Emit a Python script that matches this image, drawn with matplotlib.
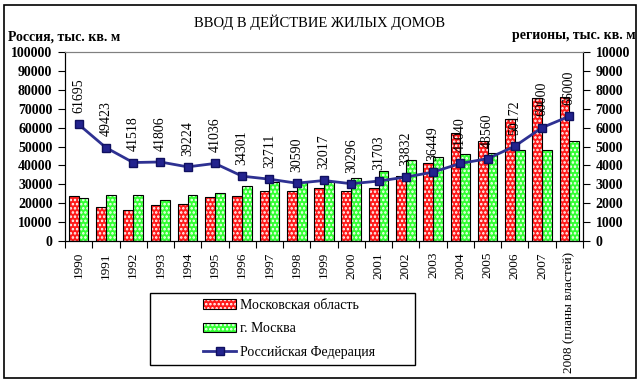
import matplotlib
matplotlib.use("Agg")
import matplotlib.pyplot as plt
import numpy as np
from matplotlib.legend_handler import HandlerTuple
from matplotlib.lines import Line2D
from matplotlib.patches import Patch, Rectangle

years = ["1990", "1991", "1992", "1993", "1994", "1995", "1996", "1997", "1998",
         "1999", "2000", "2001", "2002", "2003", "2004", "2005", "2006", "2007",
         "2008 (планы властей)"]
# regions, thousand sq. m (right axis)
mos_obl = [2370, 1790, 1640, 1890, 1950, 2320, 2370, 2620, 2620,
           2780, 2620, 2780, 3420, 4120, 5700, 5270, 6460, 7580, 7600]
moscow = [2270, 2460, 2460, 2160, 2460, 2530, 2890, 3100, 3100,
          3100, 3310, 3690, 4280, 4440, 4580, 4640, 4800, 4800, 5270]
# Russia, thousand sq. m (left axis)
russia = [61695, 49423, 41518, 41806, 39224, 41036, 34301, 32711, 30590,
          32017, 30296, 31703, 33832, 36449, 41040, 43560, 50172, 60000, 66000]

W, H = 642, 383
plt.rcParams["font.family"] = "Liberation Serif"
plt.rcParams["hatch.linewidth"] = 1.2

fig = plt.figure(figsize=(W / 100, H / 100), dpi=100)
fig.patches.append(Rectangle((4 / W, 5 / H), 632 / W, 373 / H, transform=fig.transFigure,
                             fill=False, edgecolor="black", lw=1.2))

left, right, top, bottom = 65, 583, 52, 241
ax = fig.add_axes([left / W, 1 - bottom / H, (right - left) / W, (bottom - top) / H])
ax2 = ax.twinx()

x = np.arange(len(years))
bw = 0.36
RED, GREEN = "#ff1a1a", "#33ff33"

# bars on regions axis (ax, ticks moved to the right)
ax.bar(x - bw / 2, mos_obl, bw, color=RED, edgecolor="white", hatch="....", lw=0, zorder=2)
ax.bar(x - bw / 2, mos_obl, bw, fill=False, edgecolor="black", lw=0.8, zorder=3)
ax.bar(x + bw / 2, moscow, bw, color=GREEN, edgecolor="white", hatch="....", lw=0, zorder=2)
ax.bar(x + bw / 2, moscow, bw, fill=False, edgecolor="black", lw=0.8, zorder=3)
ax.set_ylim(0, 10000)
ax.set_xlim(-0.5, len(years) - 0.5)
ax.yaxis.tick_right()
ax.set_yticks(np.arange(0, 10001, 1000))
ax.tick_params(axis="y", direction="out", length=5, labelsize=10, pad=4)

ax.set_xticks(np.arange(-0.5, len(years), 1), minor=False)
ax.set_xticklabels([])
ax.set_xticks(x, minor=True)
ax.set_xticklabels(years, minor=True, rotation=90, fontsize=9.5, va="top")
ax.tick_params(axis="x", which="major", direction="out", length=5)
ax.tick_params(axis="x", which="minor", length=0, pad=8)

# Russia line on second axis, ticks on the left
line_c = "#2e3192"
ax2.plot(x, russia, color=line_c, lw=2, marker="s", ms=6, mfc="#23238e",
         mec="#101060", zorder=5)
ax2.set_ylim(0, 100000)
ax2.yaxis.tick_left()
ax2.set_yticks(np.arange(0, 100001, 10000))
ax2.tick_params(axis="y", direction="out", length=5, labelsize=10, pad=4)
for xi, v in zip(x, russia):
    ax2.annotate(str(v), (xi, v), xytext=(0, 8), textcoords="offset points",
                 rotation=90, ha="center", va="bottom", fontsize=10)

for a in (ax, ax2):
    a.spines["top"].set_color("#808080")
    for lab in a.get_yticklabels():
        lab.set_fontweight("bold")

fig.text(320 / W, 1 - 22 / H, "ВВОД В ДЕЙСТВИЕ ЖИЛЫХ ДОМОВ", ha="center", va="center",
         fontsize=10.5)
fig.text(8 / W, 1 - 37 / H, "Россия, тыс. кв. м", ha="left", va="center",
         fontsize=10, fontweight="bold")
fig.text(636 / W, 1 - 35 / H, "регионы, тыс. кв. м", ha="right", va="center",
         fontsize=10, fontweight="bold")

# legend box drawn separately, legend itself frameless inside it
fig.patches.append(Rectangle((150 / W, 1 - 365 / H), 265 / W, 72 / H,
                             transform=fig.transFigure, fill=False,
                             edgecolor="black", lw=1.0))
h_red = (Patch(facecolor=RED, edgecolor="white", hatch="....", lw=0),
         Patch(fill=False, edgecolor="black", lw=0.8))
h_green = (Patch(facecolor=GREEN, edgecolor="white", hatch="....", lw=0),
           Patch(fill=False, edgecolor="black", lw=0.8))
h_line = Line2D([], [], color=line_c, lw=2, marker="s", ms=6, mfc="#23238e", mec="#101060")
leg = fig.legend([h_red, h_green, h_line],
                 ["Московская область", "г. Москва", "Российская Федерация"],
                 handler_map={tuple: HandlerTuple(ndivide=1, pad=0)},
                 loc="upper left", bbox_to_anchor=(203 / W, 1 - 299 / H),
                 frameon=False, fontsize=10, handlelength=2.4, handleheight=0.7,
                 labelspacing=0.75, borderpad=0, handletextpad=0.3,
                 borderaxespad=0)

fig.savefig("out.png", dpi=100)
